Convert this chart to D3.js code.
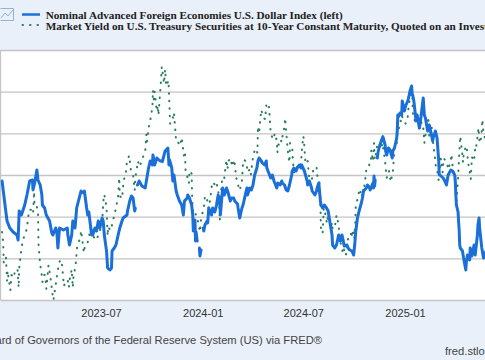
<!DOCTYPE html>
<html><head><meta charset="utf-8">
<script src="https://cdn.jsdelivr.net/npm/d3@7"></script>
<style>html,body{margin:0;padding:0;background:#e9f0f9;overflow:hidden}svg{display:block}</style>
</head><body>
<svg id="chart" width="485" height="360"></svg>
<script>
// ---------- DATA ----------
const seriesNames = [
  "Nominal Advanced Foreign Economies U.S. Dollar Index (left)",
  "Market Yield on U.S. Treasury Securities at 10-Year Constant Maturity, Quoted on an Investment Basis (right)"
];
const xTickLabels = ["2023-07", "2024-01", "2024-07", "2025-01"];
const leftGridValues = [105, 107.5, 110, 112.5, 115, 117.5, 120];
const rightDomain = [3.3, 5.1];
const sourceText = "Source: Board of Governors of the Federal Reserve System (US) via FRED®";
const siteText = "fred.stlouisfed.org";

// Nominal AFE U.S. Dollar Index (left axis); null = holiday gap
const dollarIndex = [
["2023-01-03",112.14],["2023-01-09",110.52],["2023-01-12",109.74],["2023-01-17",109.32],["2023-01-23",109.08],
["2023-01-30",108.9],["2023-02-01",108.6],["2023-02-03",110.34],["2023-02-07",110.1],["2023-02-13",110.7],
["2023-02-17",111.3],["2023-02-22",112.14],["2023-02-27",112.2],["2023-02-28",111.6],["2023-03-03",112.02],
["2023-03-07",112.8],["2023-03-09",112.2],["2023-03-13",111.9],["2023-03-16",111.3],["2023-03-17",110.7],
["2023-03-21",110.52],["2023-03-24",110.1],["2023-03-30",109.74],["2023-04-03",109.02],["2023-04-05",108.9],
["2023-04-10",109.32],["2023-04-12",109.14],["2023-04-14",108.12],["2023-04-17",109.32],["2023-04-24",109.2],
["2023-05-01",109.32],["2023-05-02",108.9],["2023-05-05",108.3],["2023-05-09",108.9],["2023-05-11",109.74],
["2023-05-15",109.32],["2023-05-18",110.52],["2023-05-24",111.3],["2023-05-26",111.54],["2023-05-30",111.42],
["2023-06-01",111.54],["2023-06-05",110.52],["2023-06-07",110.1],["2023-06-09",110.28],["2023-06-14",108.9],
["2023-06-16",108.9],["2023-06-20",109.32],["2023-06-23",109.14],["2023-06-26",109.74],["2023-06-29",109.32],
["2023-07-03",109.92],["2023-07-05",109.74],["2023-07-07",108.9],["2023-07-11",107.94],["2023-07-13",106.92],
["2023-07-17",106.8],["2023-07-20",106.92],["2023-07-21",107.94],["2023-07-25",108.12],["2023-07-28",108.3],
["2023-08-01",108.9],["2023-08-04",109.32],["2023-08-08",109.74],["2023-08-10",109.92],["2023-08-17",110.1],
["2023-08-18",110.34],["2023-08-22",110.94],["2023-08-25",111.24],["2023-08-28",111.12],["2023-08-31",110.34],
["2023-09-01",110.5],["2023-09-04",null],["2023-09-05",111.9],["2023-09-08",112.14],["2023-09-13",111.84],
["2023-09-19",111.72],["2023-09-22",112.32],["2023-09-25",112.92],["2023-09-28",113.34],["2023-10-02",113.1],
["2023-10-03",113.7],["2023-10-06",113.1],["2023-10-10",113.52],["2023-10-16",113.34],["2023-10-19",113.34],
["2023-10-20",113.3],["2023-10-25",113.94],["2023-10-30",114.12],["2023-11-01",113.1],["2023-11-02",113.4],
["2023-11-06",112.92],["2023-11-08",112.14],["2023-11-10",112.5],["2023-11-14",111.54],["2023-11-16",111.3],
["2023-11-20",110.94],["2023-11-24",110.7],["2023-11-27",110.1],["2023-11-29",110.94],["2023-12-04",111.12],
["2023-12-05",111.3],["2023-12-08",111.12],["2023-12-12",110.7],["2023-12-14",110.1],["2023-12-15",109.14],
["2023-12-18",109.8],["2023-12-19",108.54],["2023-12-20",109.08],["2023-12-22",108.54],["2023-12-25",null],
["2023-12-26",108.12],["2023-12-27",107.64],["2023-12-29",108.0],["2024-01-01",null],["2024-01-02",109.32],
["2024-01-03",109.14],["2024-01-05",109.5],["2024-01-09",109.74],["2024-01-10",109.62],["2024-01-12",110.52],
["2024-01-17",110.1],["2024-01-19",110.52],["2024-01-23",110.28],["2024-01-26",110.7],["2024-01-29",111.3],
["2024-02-01",110.7],["2024-02-02",110.1],["2024-02-05",111.3],["2024-02-06",111.72],["2024-02-09",111.3],
["2024-02-13",111.72],["2024-02-15",111.54],["2024-02-20",110.94],["2024-02-22",111.12],["2024-02-26",111.12],
["2024-02-28",110.94],["2024-03-04",110.76],["2024-03-05",110.52],["2024-03-08",109.92],["2024-03-12",110.52],
["2024-03-14",110.7],["2024-03-18",111.3],["2024-03-21",111.72],["2024-03-22",111.3],["2024-03-26",111.72],
["2024-03-29",111.6],["2024-04-01",111.9],["2024-04-04",112.5],["2024-04-08",112.92],["2024-04-10",113.34],
["2024-04-12",113.52],["2024-04-16",113.34],["2024-04-18",113.22],["2024-04-22",113.1],["2024-04-25",113.34],
["2024-04-26",112.92],["2024-05-01",112.5],["2024-05-03",112.32],["2024-05-06",112.5],["2024-05-09",112.14],
["2024-05-14",111.72],["2024-05-16",112.02],["2024-05-20",111.9],["2024-05-23",112.14],["2024-05-24",112.02],
["2024-05-28",111.9],["2024-05-31",111.6],["2024-06-03",111.54],["2024-06-06",111.9],["2024-06-10",112.5],
["2024-06-11",112.74],["2024-06-14",112.92],["2024-06-18",112.74],["2024-06-20",112.92],["2024-06-24",113.1],
["2024-06-27",112.92],["2024-06-28",113.1],["2024-07-03",112.74],["2024-07-08",112.14],["2024-07-09",111.9],
["2024-07-12",112.14],["2024-07-16",111.72],["2024-07-17",111.54],["2024-07-22",111.3],["2024-07-25",111.54],
["2024-07-26",111.72],["2024-07-29",112.02],["2024-07-31",111.3],["2024-08-01",110.94],["2024-08-02",110.7],
["2024-08-05",110.52],["2024-08-08",110.7],["2024-08-12",110.52],["2024-08-15",110.34],["2024-08-19",109.5],
["2024-08-22",108.9],["2024-08-23",108.3],["2024-08-27",108.12],["2024-08-30",108.3],["2024-09-03",108.9],
["2024-09-06",108.54],["2024-09-09",108.9],["2024-09-11",108.6],["2024-09-13",108.24],["2024-09-18",108.3],
["2024-09-20",108.12],["2024-09-23",108.0],["2024-09-27",107.94],["2024-09-30",107.7],["2024-10-02",108.3],
["2024-10-04",109.14],["2024-10-07",109.92],["2024-10-10",110.34],["2024-10-14",110.82],["2024-10-16",111.12],
["2024-10-18",111.54],["2024-10-23",111.72],["2024-10-25",111.9],["2024-10-29",111.72],["2024-10-30",111.6],
["2024-11-04",112.02],["2024-11-05",111.72],["2024-11-06",112.44],["2024-11-07",111.84],["2024-11-08",112.2],
["2024-11-11",null],["2024-11-12",113.52],["2024-11-13",113.82],["2024-11-15",114.12],["2024-11-19",114.54],
["2024-11-21",114.72],["2024-11-22",114.8],["2024-11-26",114.3],["2024-11-27",113.94],["2024-11-29",113.7],
["2024-12-02",114.12],["2024-12-05",114.0],["2024-12-09",113.52],["2024-12-10",113.94],["2024-12-13",114.12],
["2024-12-17",114.72],["2024-12-18",115.14],["2024-12-19",116.1],["2024-12-20",115.98],["2024-12-23",116.22],
["2024-12-26",116.1],["2024-12-27",116.94],["2024-12-31",116.34],["2025-01-02",116.64],["2025-01-06",116.94],
["2025-01-08",117.2],["2025-01-10",117.54],["2025-01-13",117.84],["2025-01-14",117.3],["2025-01-15",117.3],
["2025-01-17",116.94],["2025-01-21",115.74],["2025-01-23",116.1],["2025-01-27",115.32],["2025-01-29",115.74],
["2025-02-03",117.12],["2025-02-05",116.1],["2025-02-07",115.92],["2025-02-11",115.14],["2025-02-14",115.5],
["2025-02-18",114.9],["2025-02-20",114.54],["2025-02-21",114.72],["2025-02-25",115.14],["2025-02-28",114.72],
["2025-03-03",113.34],["2025-03-04",112.5],["2025-03-05",112.5],["2025-03-07",112.44],["2025-03-11",112.32],
["2025-03-14",112.14],["2025-03-17",111.9],["2025-03-20",112.5],["2025-03-24",112.74],["2025-03-25",112.8],
["2025-03-28",112.74],["2025-04-01",112.5],["2025-04-02",112.14],["2025-04-03",111.3],["2025-04-04",110.7],
["2025-04-07",110.28],["2025-04-08",109.68],["2025-04-09",109.2],["2025-04-10",108.3],["2025-04-11",108.12],
["2025-04-15",107.94],["2025-04-17",107.52],["2025-04-21",106.8],["2025-04-22",107.28],["2025-04-24",107.7],
["2025-04-28",107.4],["2025-04-29",108.12],["2025-05-02",107.64],["2025-05-06",108.3],["2025-05-08",107.7],
["2025-05-12",108.9],["2025-05-13",109.5],["2025-05-15",109.92],["2025-05-16",109.32],["2025-05-20",108.12],
["2025-05-23",107.52],["2025-05-27",107.9],["2025-05-30",108.0]
];

// 10-Year Treasury constant maturity yield, percent (right axis)
const treasuryYield = [
["2023-01-03",3.79],["2023-01-05",3.72],["2023-01-06",3.57],["2023-01-10",3.61],["2023-01-12",3.44],["2023-01-13",3.51],
["2023-01-18",3.37],["2023-01-20",3.48],["2023-01-24",3.46],["2023-01-27",3.52],["2023-01-31",3.52],["2023-02-02",3.39],
["2023-02-03",3.53],["2023-02-07",3.67],["2023-02-10",3.74],["2023-02-14",3.77],["2023-02-17",3.82],["2023-02-21",3.95],
["2023-02-24",3.95],["2023-02-28",3.92],["2023-03-02",4.08],["2023-03-03",3.97],["2023-03-07",3.97],["2023-03-09",3.93],
["2023-03-10",3.70],["2023-03-13",3.55],["2023-03-15",3.51],["2023-03-17",3.43],["2023-03-20",3.48],["2023-03-22",3.48],
["2023-03-24",3.38],["2023-03-28",3.55],["2023-03-31",3.48],["2023-04-04",3.35],["2023-04-06",3.30],["2023-04-10",3.41],
["2023-04-14",3.52],["2023-04-18",3.59],["2023-04-21",3.57],["2023-04-25",3.40],["2023-04-28",3.44],["2023-05-02",3.44],
["2023-05-04",3.39],["2023-05-05",3.44],["2023-05-09",3.52],["2023-05-11",3.39],["2023-05-12",3.46],["2023-05-16",3.55],
["2023-05-19",3.69],["2023-05-24",3.74],["2023-05-26",3.80],["2023-05-31",3.64],["2023-06-02",3.69],["2023-06-06",3.70],
["2023-06-09",3.75],["2023-06-13",3.84],["2023-06-16",3.77],["2023-06-21",3.73],["2023-06-23",3.74],["2023-06-27",3.77],
["2023-06-30",3.81],["2023-07-03",3.86],["2023-07-06",4.05],["2023-07-07",4.06],["2023-07-11",3.97],["2023-07-13",3.76],
["2023-07-14",3.83],["2023-07-18",3.80],["2023-07-21",3.84],["2023-07-25",3.91],["2023-07-28",3.96],["2023-08-01",4.05],
["2023-08-03",4.18],["2023-08-04",4.05],["2023-08-08",4.03],["2023-08-11",4.16],["2023-08-15",4.22],["2023-08-17",4.30],
["2023-08-21",4.34],["2023-08-24",4.24],["2023-08-28",4.20],["2023-08-31",4.09],["2023-09-01",4.18],["2023-09-06",4.30],
["2023-09-08",4.26],["2023-09-12",4.29],["2023-09-15",4.33],["2023-09-19",4.37],["2023-09-21",4.49],["2023-09-22",4.44],
["2023-09-26",4.56],["2023-09-28",4.59],["2023-10-02",4.69],["2023-10-03",4.81],["2023-10-05",4.72],["2023-10-06",4.80],
["2023-10-10",4.66],["2023-10-12",4.70],["2023-10-13",4.63],["2023-10-17",4.85],["2023-10-19",4.98],["2023-10-23",4.86],
["2023-10-25",4.96],["2023-10-27",4.84],["2023-10-31",4.88],["2023-11-01",4.79],["2023-11-03",4.57],["2023-11-07",4.58],
["2023-11-09",4.64],["2023-11-10",4.65],["2023-11-14",4.44],["2023-11-17",4.44],["2023-11-21",4.41],["2023-11-24",4.47],
["2023-11-28",4.34],["2023-11-30",4.37],["2023-12-01",4.22],["2023-12-05",4.18],["2023-12-07",4.14],["2023-12-08",4.23],
["2023-12-12",4.21],["2023-12-13",4.02],["2023-12-15",3.91],["2023-12-19",3.92],["2023-12-22",3.90],["2023-12-27",3.79],
["2023-12-29",3.88],["2024-01-02",3.95],["2024-01-04",3.99],["2024-01-05",4.05],["2024-01-09",4.02],["2024-01-11",3.98],
["2024-01-12",3.96],["2024-01-16",4.07],["2024-01-18",4.14],["2024-01-19",4.15],["2024-01-23",4.13],["2024-01-25",4.14],
["2024-01-26",4.15],["2024-01-30",4.06],["2024-01-31",3.99],["2024-02-01",3.87],["2024-02-02",4.03],["2024-02-05",4.16],
["2024-02-08",4.15],["2024-02-09",4.18],["2024-02-13",4.31],["2024-02-15",4.24],["2024-02-16",4.30],["2024-02-21",4.32],
["2024-02-23",4.26],["2024-02-27",4.31],["2024-02-29",4.25],["2024-03-01",4.19],["2024-03-05",4.13],["2024-03-07",4.09],
["2024-03-08",4.09],["2024-03-12",4.16],["2024-03-14",4.29],["2024-03-15",4.31],["2024-03-19",4.30],["2024-03-21",4.27],
["2024-03-22",4.22],["2024-03-26",4.24],["2024-03-28",4.20],["2024-04-01",4.33],["2024-04-03",4.36],["2024-04-05",4.39],
["2024-04-09",4.36],["2024-04-10",4.55],["2024-04-12",4.50],["2024-04-15",4.63],["2024-04-16",4.67],["2024-04-18",4.64],
["2024-04-19",4.62],["2024-04-23",4.60],["2024-04-25",4.70],["2024-04-26",4.67],["2024-04-30",4.69],["2024-05-01",4.63],
["2024-05-03",4.50],["2024-05-07",4.46],["2024-05-09",4.46],["2024-05-10",4.50],["2024-05-14",4.45],["2024-05-15",4.36],
["2024-05-17",4.42],["2024-05-21",4.41],["2024-05-23",4.48],["2024-05-24",4.47],["2024-05-28",4.55],["2024-05-29",4.61],
["2024-05-31",4.51],["2024-06-04",4.33],["2024-06-06",4.29],["2024-06-07",4.43],["2024-06-11",4.40],["2024-06-12",4.31],
["2024-06-14",4.22],["2024-06-18",4.22],["2024-06-20",4.26],["2024-06-21",4.25],["2024-06-25",4.25],["2024-06-27",4.29],
["2024-06-28",4.36],["2024-07-01",4.48],["2024-07-02",4.46],["2024-07-05",4.28],["2024-07-09",4.30],["2024-07-11",4.20],
["2024-07-12",4.18],["2024-07-16",4.16],["2024-07-18",4.20],["2024-07-19",4.24],["2024-07-23",4.25],["2024-07-25",4.26],
["2024-07-26",4.20],["2024-07-30",4.15],["2024-07-31",4.09],["2024-08-01",3.99],["2024-08-02",3.80],["2024-08-05",3.78],
["2024-08-07",3.96],["2024-08-08",3.99],["2024-08-09",3.94],["2024-08-13",3.85],["2024-08-15",3.92],["2024-08-16",3.89],
["2024-08-20",3.82],["2024-08-22",3.86],["2024-08-23",3.81],["2024-08-27",3.83],["2024-08-29",3.87],["2024-08-30",3.91],
["2024-09-03",3.84],["2024-09-05",3.73],["2024-09-06",3.72],["2024-09-10",3.65],["2024-09-12",3.68],["2024-09-13",3.66],
["2024-09-16",3.62],["2024-09-18",3.70],["2024-09-20",3.74],["2024-09-24",3.74],["2024-09-26",3.80],["2024-09-27",3.75],
["2024-09-30",3.81],["2024-10-01",3.74],["2024-10-03",3.85],["2024-10-04",3.98],["2024-10-08",4.04],["2024-10-10",4.09],
["2024-10-11",4.10],["2024-10-15",4.04],["2024-10-17",4.10],["2024-10-18",4.08],["2024-10-22",4.20],["2024-10-23",4.24],
["2024-10-25",4.24],["2024-10-29",4.28],["2024-10-31",4.28],["2024-11-01",4.38],["2024-11-04",4.30],["2024-11-06",4.43],
["2024-11-07",4.33],["2024-11-08",4.31],["2024-11-12",4.43],["2024-11-14",4.43],["2024-11-15",4.43],["2024-11-19",4.39],
["2024-11-21",4.43],["2024-11-22",4.41],["2024-11-26",4.30],["2024-11-27",4.25],["2024-11-29",4.18],["2024-12-03",4.23],
["2024-12-05",4.18],["2024-12-06",4.15],["2024-12-10",4.22],["2024-12-12",4.33],["2024-12-13",4.40],["2024-12-17",4.40],
["2024-12-18",4.50],["2024-12-20",4.52],["2024-12-24",4.59],["2024-12-26",4.58],["2024-12-27",4.62],["2024-12-31",4.58],
["2025-01-02",4.57],["2025-01-03",4.60],["2025-01-06",4.62],["2025-01-07",4.67],["2025-01-08",4.69],["2025-01-10",4.77],
["2025-01-13",4.78],["2025-01-14",4.79],["2025-01-15",4.66],["2025-01-16",4.61],["2025-01-17",4.61],["2025-01-21",4.57],
["2025-01-22",4.61],["2025-01-24",4.62],["2025-01-27",4.53],["2025-01-29",4.55],["2025-01-31",4.58],["2025-02-03",4.54],
["2025-02-05",4.43],["2025-02-07",4.49],["2025-02-11",4.54],["2025-02-12",4.62],["2025-02-14",4.47],["2025-02-18",4.55],
["2025-02-20",4.50],["2025-02-21",4.43],["2025-02-25",4.30],["2025-02-26",4.25],["2025-02-28",4.24],["2025-03-03",4.16],
["2025-03-04",4.22],["2025-03-06",4.28],["2025-03-07",4.32],["2025-03-10",4.22],["2025-03-12",4.32],["2025-03-14",4.31],
["2025-03-18",4.29],["2025-03-20",4.24],["2025-03-21",4.25],["2025-03-25",4.31],["2025-03-26",4.35],["2025-03-28",4.27],
["2025-04-01",4.17],["2025-04-03",4.06],["2025-04-04",4.01],["2025-04-07",4.17],["2025-04-08",4.26],["2025-04-09",4.34],
["2025-04-11",4.48],["2025-04-14",4.38],["2025-04-16",4.29],["2025-04-17",4.34],["2025-04-21",4.41],["2025-04-23",4.39],
["2025-04-25",4.29],["2025-04-28",4.23],["2025-04-30",4.17],["2025-05-02",4.33],["2025-05-06",4.30],["2025-05-08",4.39],
["2025-05-09",4.38],["2025-05-12",4.47],["2025-05-14",4.54],["2025-05-16",4.43],["2025-05-19",4.47],["2025-05-21",4.60],
["2025-05-22",4.54],["2025-05-23",4.51],["2025-05-27",4.44],["2025-05-30",4.41]
];

// ---------- LAYOUT ----------
const W = 485, H = 360;
const plot = {left: 0.5, right: 520, top: 50, bottom: 300};
const blue = "#1a6fd8", green = "#2b7d5e";
const parse = d3.utcParse("%Y-%m-%d");
const tickDates = xTickLabels.map(s => parse(s + "-01"));

const svg = d3.select("#chart");
svg.append("rect").attr("width", W).attr("height", H).attr("fill", "#e9f0f9");

// x scale anchored to the first and last tick (2023-07 .. 2025-01)
const x = d3.scaleUtc().domain([tickDates[0], tickDates[3]]).range([101, 405]);
const yL = d3.scaleLinear().domain([leftGridValues[0], leftGridValues[leftGridValues.length-1]]).range([plot.bottom, plot.top]);
const yR = d3.scaleLinear().domain(rightDomain).range([plot.bottom, plot.top]);

svg.append("rect").attr("x", plot.left).attr("y", plot.top)
  .attr("width", plot.right - plot.left).attr("height", plot.bottom - plot.top).attr("fill", "#ffffff");

// gridlines
const grid = svg.append("g").attr("transform", `translate(${plot.left},0)`)
  .call(d3.axisRight(yL).tickValues(leftGridValues).tickSize(plot.right - plot.left).tickFormat(""));
grid.select(".domain").remove();
grid.selectAll(".tick line").attr("stroke", "#c4c4c4").attr("stroke-width", 1.3);

// left plot border
svg.append("line").attr("x1", plot.left).attr("x2", plot.left).attr("y1", plot.top).attr("y2", plot.bottom)
  .attr("stroke", "#c4c4c4").attr("stroke-width", 1.3);

// x axis labels
const xa = svg.append("g").attr("transform", `translate(0,${plot.bottom})`)
  .call(d3.axisBottom(x).tickValues(tickDates).tickSize(0).tickPadding(8.7).tickFormat(d3.utcFormat("%Y-%m")));
xa.select(".domain").remove();
xa.selectAll("text").attr("font-family", "Liberation Sans, Arial, sans-serif").attr("font-size", 11).attr("fill", "#333");

// series
const clip = svg.append("clipPath").attr("id", "pc").append("rect")
  .attr("x", plot.left).attr("y", plot.top - 5).attr("width", plot.right - plot.left).attr("height", plot.bottom - plot.top + 10);

const yieldLine = d3.line().defined(d => d[1] != null).x(d => x(parse(d[0]))).y(d => yR(d[1]));
const dollarLine = d3.line().defined(d => d[1] != null).x(d => x(parse(d[0]))).y(d => yL(d[1]));

const g = svg.append("g").attr("clip-path", "url(#pc)");
g.append("path").datum(treasuryYield).attr("d", yieldLine).attr("fill", "none")
  .attr("stroke", green).attr("stroke-width", 2).attr("stroke-dasharray", "0.5,7")
  .attr("stroke-linecap", "round").attr("stroke-linejoin", "round");
g.append("path").datum(dollarIndex).attr("d", dollarLine).attr("fill", "none")
  .attr("stroke", blue).attr("stroke-width", 3).attr("stroke-linecap", "round").attr("stroke-linejoin", "round");

// legend
const lg = svg.append("g");
const icon = lg.append("g").attr("fill", "none").attr("stroke", "#8fb3dc").attr("stroke-width", 1);
icon.append("path").attr("d", "M0.5,8.5 L13.5,8.5 L13.5,20.5 L0.5,20.5");
icon.append("path").attr("d", "M1,18 L5,13 L8,16 L13,10");
lg.append("line").attr("x1", 22).attr("x2", 40).attr("y1", 14.5).attr("y2", 14.5)
  .attr("stroke", blue).attr("stroke-width", 2.5);
lg.append("line").attr("x1", 22.5).attr("x2", 40).attr("y1", 25).attr("y2", 25)
  .attr("stroke", green).attr("stroke-width", 2).attr("stroke-dasharray", "0.5,7").attr("stroke-linecap", "round");
lg.selectAll("text.leg").data(seriesNames).join("text").attr("class", "leg")
  .attr("x", 45.7).attr("y", (d, i) => 18.5 + i * 11)
  .attr("font-family", "Liberation Serif, Times New Roman, serif").attr("font-weight", "bold")
  .attr("font-size", 11.2).attr("fill", "#222").text(d => d);

// source & site
svg.append("text").attr("x", 322).attr("y", 344).attr("text-anchor", "end")
  .attr("font-family", "Liberation Sans, Arial, sans-serif").attr("font-size", 11.2).attr("fill", "#444").text(sourceText);
svg.append("text").attr("x", 445).attr("y", 355)
  .attr("font-family", "Liberation Sans, Arial, sans-serif").attr("font-size", 11.2).attr("fill", "#444").text(siteText);
</script>
</body></html>
